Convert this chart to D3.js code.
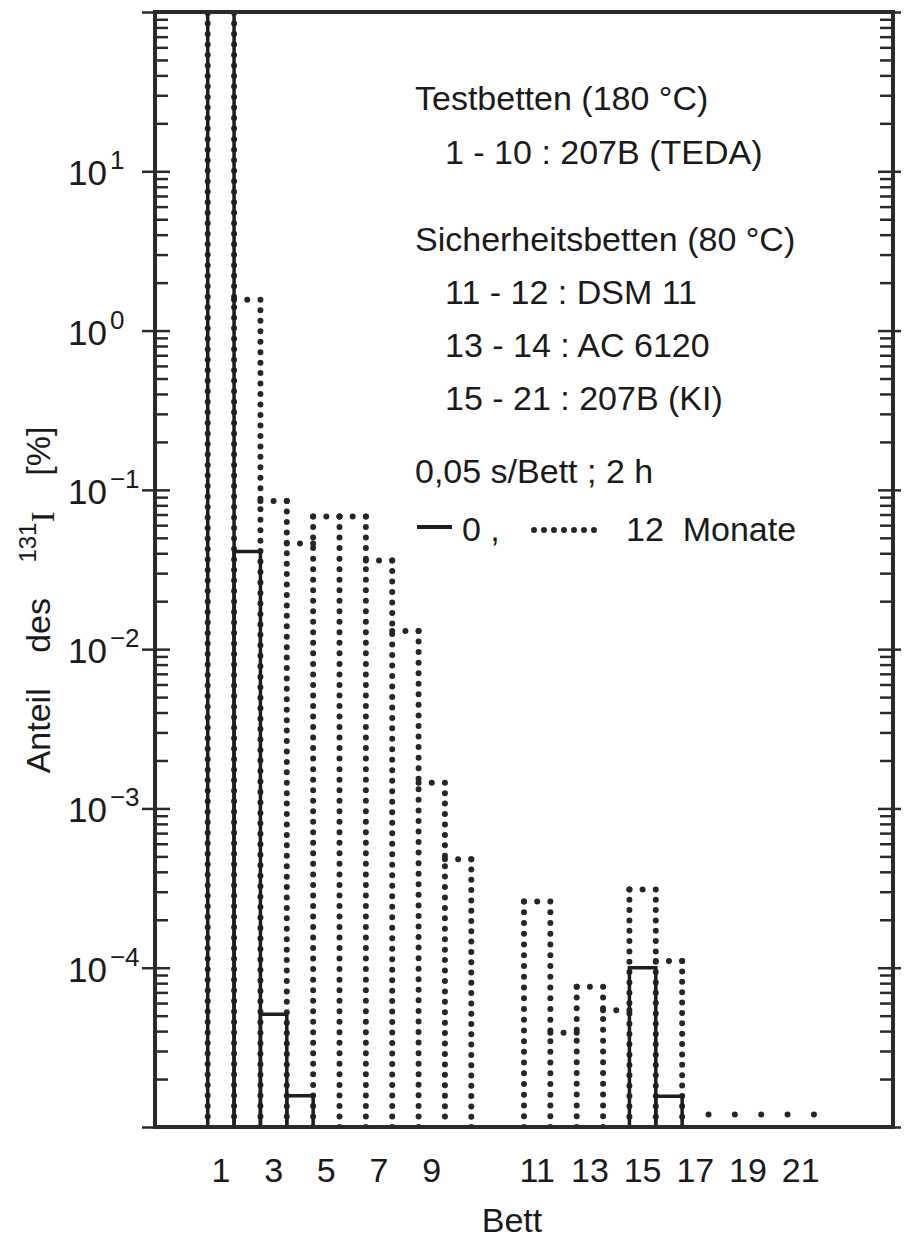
<!DOCTYPE html>
<html>
<head>
<meta charset="utf-8">
<script src="https://cdn.jsdelivr.net/npm/d3@7"></script>
<style>
  body { margin: 0; background: #fff; }
  svg { display: block; }
  text { font-family: "Liberation Sans", Arial, sans-serif; fill: #1a1a1a; }
</style>
</head>
<body>
<svg id="chart" width="904" height="1238"></svg>
<script>
//----------------------------------------------------------- DATA
var beds = d3.range(1, 22);
var xTickLabels = [1, 3, 5, 7, 9, 11, 13, 15, 17, 19, 21];
// 0 Monate (solid), null = nothing drawn
var months0 = [200, 0.041, 5.1e-5, 1.57e-5, null, null, null, null, null, null,
               null, null, null, null, 1.0e-4, 1.56e-5, null, null, null, null, null];
// 12 Monate (dotted)
var months12 = [200, 1.56, 0.085, 0.046, 0.068, 0.068, 0.036, 0.013, 1.45e-3, 4.8e-4,
                2.6e-4, 3.9e-5, 7.6e-5, 5.4e-5, 3.1e-4, 1.1e-4, 1.2e-5, 1.2e-5, 1.2e-5, 1.2e-5, 1.2e-5];
var yLabelExponents = [1, 0, -1, -2, -3, -4];
var legendText = [
  {t: "Testbetten (180 °C)", indent: false, y: 110},
  {t: "1 - 10 : 207B (TEDA)", indent: true, y: 164},
  {t: "Sicherheitsbetten (80 °C)", indent: false, y: 251},
  {t: "11 - 12 : DSM 11", indent: true, y: 304},
  {t: "13 - 14 : AC 6120", indent: true, y: 357},
  {t: "15 - 21 : 207B (KI)", indent: true, y: 410},
  {t: "0,05 s/Bett ; 2 h", indent: false, y: 483}
];

//----------------------------------------------------------- SCALES
var pL = 155, pR = 893, pT = 12, pB = 1127;
var svg = d3.select("#chart");

// beds 1-10 and 11-21 separated by a gap of two bed widths
function slot(b) { return b <= 10 ? b - 1 : b + 1; }
var x = d3.scaleLinear().domain([-2, 26]).range([pL, pR]);
var y = d3.scaleLog().domain([1e-5, 1e2]).range([pB, pT]);

svg.append("clipPath").attr("id", "plot")
  .append("rect").attr("x", pL).attr("y", pT).attr("width", pR - pL).attr("height", pB - pT);

var plot = svg.append("g").attr("clip-path", "url(#plot)");

//----------------------------------------------------------- DOTTED BARS (12 Monate)
function dotLine(g, x1, y1, x2, y2, step) {
  var len = Math.hypot(x2 - x1, y2 - y1);
  var n = Math.max(1, Math.round(len / step));
  g.append("line")
    .attr("x1", x1).attr("y1", y1).attr("x2", x2).attr("y2", y2)
    .attr("stroke", "#262626").attr("stroke-width", 6)
    .attr("stroke-linecap", "round")
    .attr("stroke-dasharray", "0," + (len / n));
}

var dotted = plot.append("g");
// shared bar sides are drawn once, up to the higher of the two neighbours
var edgeTop = {};
beds.forEach(function(b, i) {
  var v = months12[i];
  if (v == null) return;
  var yt = Math.max(y(v), pT - 20);
  [slot(b), slot(b) + 1].forEach(function(s) {
    edgeTop[s] = edgeTop[s] === undefined ? yt : Math.min(edgeTop[s], yt);
  });
  if (pB - yt > 15) dotLine(dotted, x(slot(b)), yt, x(slot(b) + 1), yt, 13);
});
Object.keys(edgeTop).forEach(function(s) {
  dotLine(dotted, x(+s), edgeTop[s], x(+s), pB, 10.5);
});

//----------------------------------------------------------- SOLID BARS (0 Monate)
var solid = plot.append("g")
  .attr("fill", "none").attr("stroke", "#1e1e1e").attr("stroke-width", 3.5);
beds.forEach(function(b, i) {
  var v = months0[i];
  if (v == null) return;
  var x0 = x(slot(b)), x1 = x(slot(b) + 1), yt = Math.max(y(v), pT - 20);
  solid.append("path").attr("d", "M" + x0 + "," + pB + "V" + yt + "H" + x1 + "V" + pB);
});

//----------------------------------------------------------- AXES
var allTicks = y.ticks();
function isMajor(d) { return Math.abs(Math.log10(d) - Math.round(Math.log10(d))) < 1e-6; }

var leftAxis = svg.append("g").attr("transform", "translate(" + pL + ",0)")
  .call(d3.axisRight(y).tickValues(allTicks).tickSize(13).tickFormat(""));
var rightAxis = svg.append("g").attr("transform", "translate(" + pR + ",0)")
  .call(d3.axisLeft(y).tickValues(allTicks).tickSize(13).tickFormat(""));
[leftAxis, rightAxis].forEach(function(a) {
  a.select(".domain").remove();
  a.selectAll(".tick line").attr("stroke", "#2a2a2a").attr("stroke-width", 2.5);
});
leftAxis.selectAll(".tick line").filter(isMajor).attr("x1", -13).attr("x2", 15);
rightAxis.selectAll(".tick line").filter(isMajor).attr("x1", 8).attr("x2", -15);

svg.append("rect")
  .attr("x", pL).attr("y", pT).attr("width", pR - pL).attr("height", pB - pT)
  .attr("fill", "none").attr("stroke", "#2a2a2a").attr("stroke-width", 4);

// y tick labels 10^n
var yl = svg.append("g");
yLabelExponents.forEach(function(e) {
  var t = yl.append("text").attr("x", 68).attr("y", y(Math.pow(10, e)) + 14)
    .attr("font-size", 35);
  t.append("tspan").text("10");
  t.append("tspan").attr("dx", 3).attr("dy", -16).attr("font-size", 26)
    .text(e < 0 ? "\u2212" + (-e) : String(e));
});

// x tick labels
svg.append("g").selectAll("text").data(xTickLabels).join("text")
  .attr("x", function(d) { return x(slot(d) + 0.5); })
  .attr("y", 1182)
  .attr("text-anchor", "middle")
  .attr("font-size", 34)
  .text(function(d) { return d; });

svg.append("text").attr("x", 512).attr("y", 1232).attr("text-anchor", "middle")
  .attr("font-size", 34).text("Bett");

// y title
var ytl = svg.append("text")
  .attr("transform", "translate(50,600) rotate(-90)")
  .attr("text-anchor", "middle").attr("font-size", 34).attr("word-spacing", 26);
ytl.append("tspan").text("Anteil des ");
ytl.append("tspan").attr("font-size", 24).attr("dy", -14).text("131");
ytl.append("tspan").attr("dy", 18).attr("font-family", "Liberation Serif, serif").text("I");
ytl.append("tspan").attr("dy", -4).text(" [%]");

//----------------------------------------------------------- LEGEND
var lg = svg.append("g");
legendText.forEach(function(d) {
  lg.append("text").attr("x", d.indent ? 445 : 415).attr("y", d.y)
    .attr("font-size", 34).attr("xml:space", "preserve").text(d.t);
});
lg.append("line").attr("x1", 417).attr("x2", 452).attr("y1", 527).attr("y2", 527)
  .attr("stroke", "#1e1e1e").attr("stroke-width", 4);
lg.append("text").attr("x", 462).attr("y", 541).attr("font-size", 34).text("0 ,");
dotLine(lg, 534, 530, 604, 530, 10);
lg.append("text").attr("x", 626).attr("y", 541).attr("font-size", 34)
  .attr("xml:space", "preserve").text("12  Monate");
</script>
</body>
</html>
